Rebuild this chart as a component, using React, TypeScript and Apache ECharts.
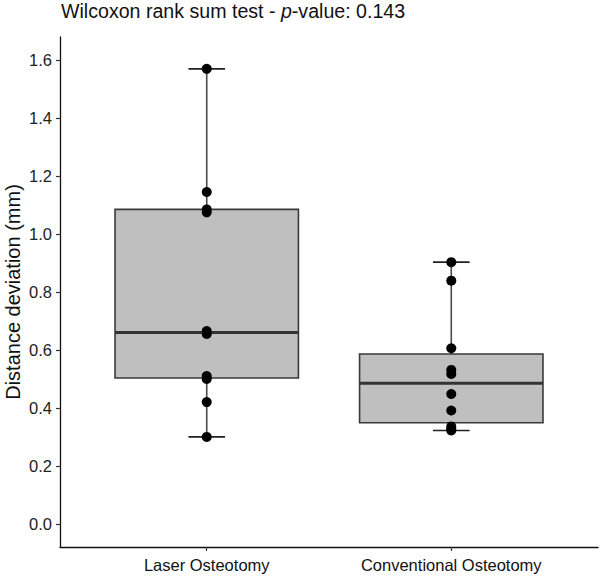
import React, { useEffect, useRef } from "react";
import * as echarts from "echarts";

const categories = ["Laser Osteotomy", "Conventional Osteotomy"];
// box stats: [min, q1, median, q3, max]
const laserBox = [0.3, 0.503, 0.66, 1.085, 1.57];
const conventionalBox = [0.322, 0.349, 0.485, 0.586, 0.903];
const laserValues = [1.57, 1.145, 1.085, 1.075, 0.665, 0.655, 0.51, 0.5, 0.42, 0.3];
const conventionalValues = [0.903, 0.839, 0.606, 0.531, 0.517, 0.448, 0.391, 0.336, 0.328, 0.322];
const yTicks = [0, 0.2, 0.4, 0.6, 0.8, 1.0, 1.2, 1.4, 1.6];
const xTicks = [1, 2];

export default function App() {
  const ref = useRef<HTMLDivElement>(null);
  useEffect(() => {
    document.body.style.margin = "0";
    const chart = echarts.init(ref.current!, null, { renderer: "svg" });
    const boxes = [laserBox, conventionalBox].map((b, i) => [i + 1, ...b]);
    const points: number[][] = [];
    laserValues.forEach((v) => points.push([1, v]));
    conventionalValues.forEach((v) => points.push([2, v]));
    const font = "Liberation Sans, Arial, sans-serif";
    chart.setOption({
      animation: false,
      backgroundColor: "#ffffff",
      title: {
        left: 56,
        top: -4,
        text: "{a|Wilcoxon rank sum test - }{b|p}{a|-value: 0.143}",
        textStyle: {
          fontWeight: "normal",
          rich: {
            a: { fontFamily: font, fontSize: 19.6, color: "#111", fontWeight: "normal" },
            b: { fontFamily: font, fontSize: 19.6, color: "#111", fontStyle: "italic", fontWeight: "normal" },
          },
        },
      },
      grid: { left: 60, right: 2, top: 37, bottom: 29, outerBoundsMode: "none", containLabel: false },
      xAxis: {
        type: "value",
        min: 0.4,
        max: 2.6,
        splitLine: { show: false },
        axisLine: { show: true, onZero: false, lineStyle: { color: "#111", width: 1.3 } },
        axisTick: { show: true, customValues: xTicks, length: 4, lineStyle: { color: "#333", width: 1.2 } },
        axisLabel: {
          customValues: xTicks,
          formatter: (v: number) => categories[Math.round(v) - 1] ?? "",
          color: "#111",
          fontSize: 16.5,
          fontFamily: font,
          margin: 9,
        },
      },
      yAxis: {
        type: "value",
        min: -0.08,
        max: 1.68,
        name: "Distance deviation (mm)",
        nameLocation: "middle",
        nameGap: 37,
        nameMoveOverlap: false,
        nameTextStyle: { fontSize: 20, color: "#111", fontFamily: font },
        splitLine: { show: false },
        axisLine: { show: true, onZero: false, lineStyle: { color: "#111", width: 1.3 } },
        axisTick: { show: true, customValues: yTicks, length: 4, lineStyle: { color: "#333", width: 1.2 } },
        axisLabel: {
          customValues: yTicks,
          formatter: (v: number) => v.toFixed(1),
          color: "#222",
          fontSize: 16.5,
          fontFamily: font,
          margin: 8,
        },
      },
      series: [
        {
          type: "custom",
          data: boxes,
          renderItem: (params: any, api: any) => {
            const x = api.value(0);
            const mn = api.value(1);
            const q1 = api.value(2);
            const md = api.value(3);
            const q3 = api.value(4);
            const mx = api.value(5);
            const halfBox = api.size([0.75, 0])[0] / 2;
            const halfCap = api.size([0.15, 0])[0] / 2;
            const pMin = api.coord([x, mn]);
            const pMax = api.coord([x, mx]);
            const pQ1 = api.coord([x, q1]);
            const pQ3 = api.coord([x, q3]);
            const pMd = api.coord([x, md]);
            const cx = pMin[0];
            return {
              type: "group",
              children: [
                {
                  type: "line",
                  shape: { x1: cx, y1: pMin[1], x2: cx, y2: pMax[1] },
                  style: { stroke: "#4a4a4a", lineWidth: 1.6 },
                },
                {
                  type: "line",
                  shape: { x1: cx - halfCap, y1: pMin[1], x2: cx + halfCap, y2: pMin[1] },
                  style: { stroke: "#222", lineWidth: 1.6 },
                },
                {
                  type: "line",
                  shape: { x1: cx - halfCap, y1: pMax[1], x2: cx + halfCap, y2: pMax[1] },
                  style: { stroke: "#222", lineWidth: 1.6 },
                },
                {
                  type: "rect",
                  shape: { x: cx - halfBox, y: pQ3[1], width: halfBox * 2, height: pQ1[1] - pQ3[1] },
                  style: { fill: "#bfbfbf", stroke: "#3a3a3a", lineWidth: 1.6 },
                },
                {
                  type: "line",
                  shape: { x1: cx - halfBox, y1: pMd[1], x2: cx + halfBox, y2: pMd[1] },
                  style: { stroke: "#333", lineWidth: 3 },
                },
              ],
            };
          },
          z: 2,
        },
        {
          type: "scatter",
          data: points,
          symbol: "circle",
          symbolSize: 10,
          itemStyle: { color: "#000", opacity: 1 },
          z: 3,
        },
      ],
    });
    return () => chart.dispose();
  }, []);
  return <div ref={ref} style={{ width: 600, height: 576 }} />;
}
